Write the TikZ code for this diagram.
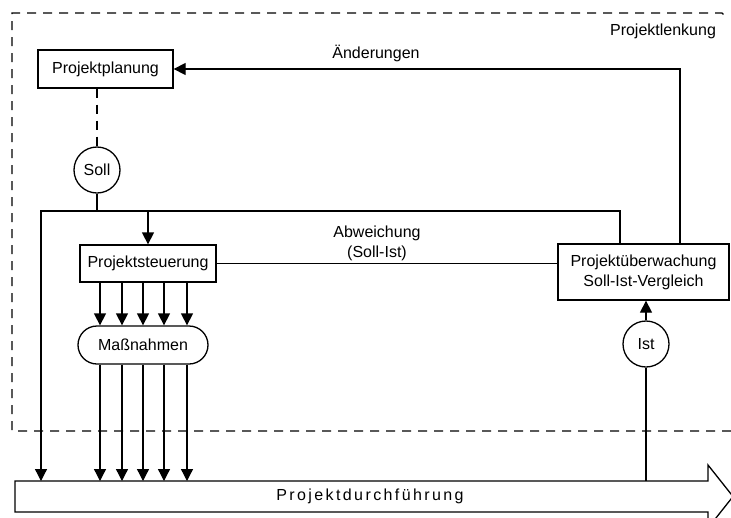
\documentclass[tikz,border=0pt]{standalone}
\usepackage{fontspec}
\setmainfont{Liberation Sans}
\usetikzlibrary{arrows.meta}
\newcommand\lblfont{\fontsize{16}{19}\selectfont}
\begin{document}
\begin{tikzpicture}[x=1pt,y=-1pt,line width=1.3pt,
  box/.style={draw,rectangle,inner sep=0pt,font=\lblfont},
  circ/.style={draw,circle,inner sep=0pt,minimum size=46pt,font=\lblfont},
  lbl/.style={inner sep=0pt,font=\lblfont,align=center},
  arr/.style={-{Triangle[width=12pt,length=12pt]}},
  frame/.style={dash pattern=on 9pt off 7pt,line width=1.3pt}]
\useasboundingbox (0,0) rectangle (731,517);
\fill[white] (0,0) rectangle (731,517);
% frame
\draw[frame] (731,431) -- (12,431) -- (12,13) -- (722,13) -- (725,16);
\node[lbl] (pl) at (663,31) {Projektlenkung};
% nodes
\node[box,minimum width=135pt,minimum height=38pt] (pp) at (105.5,69) {Projektplanung};
\node[circ] (soll) at (97,170) {Soll};
\node[box,minimum width=136pt,minimum height=37pt] (ps) at (148,263.5) {Projektsteuerung};
\node[box,minimum width=130pt,minimum height=38pt,rounded corners=19pt] (mn) at (143,345) {Maßnahmen};
\node[box,minimum width=171pt,minimum height=56pt,align=center] (pu) at (643.5,272) {Projektüberwachung\\[1pt]Soll-Ist-Vergleich};
\node[circ] (ist) at (646,344) {Ist};
\node[lbl,minimum width=693pt,minimum height=31pt,outer sep=0pt] (pd) at (361.5,496.5) {\hspace*{17pt}\addfontfeature{LetterSpace=15}Projektdurchführung};
\draw (pd.north west) -- (pd.north east) -- ++(0,-16) -- ++(25,31.5) -- ++(-25,31.5) -- (pd.south east) -- (pd.south west) -- cycle;
\node[lbl] (aend) at (376,53) {Änderungen};
\node[lbl] (abw) at (377,243) {Abweichung\\[1pt](Soll-Ist)};
% junctions
\coordinate (jl) at (41,211);
\coordinate (jr) at (620,211);
\coordinate (ch) at (680,69);
% connectors
\draw[frame] (pp.south -| soll.north) -- (soll.north);
\draw (soll.south) -- (soll.south |- jl);
\draw[arr] (pu.north -| jr) -- (jr) -- (jl) -- (jl |- pd.north);
\draw[arr] (ps.north |- jl) -- (ps.north);
\draw (ps.east) -- (ps.east -| pu.west);
\draw[arr] (pu.north -| ch) -- (ch) -- (pp.east);
\draw[arr] (ist.north) -- (ist.north |- pu.south);
\draw (ist.south) -- (ist.south |- pd.north);
\foreach \x [count=\i] in {100,122,143,164,187} {
  \coordinate (v\i) at (\x,0);
  \draw[arr] (ps.south -| v\i) -- (mn.north -| v\i);
  \draw[arr] (mn.south -| v\i) -- (pd.north -| v\i);
}
\end{tikzpicture}
\end{document}
